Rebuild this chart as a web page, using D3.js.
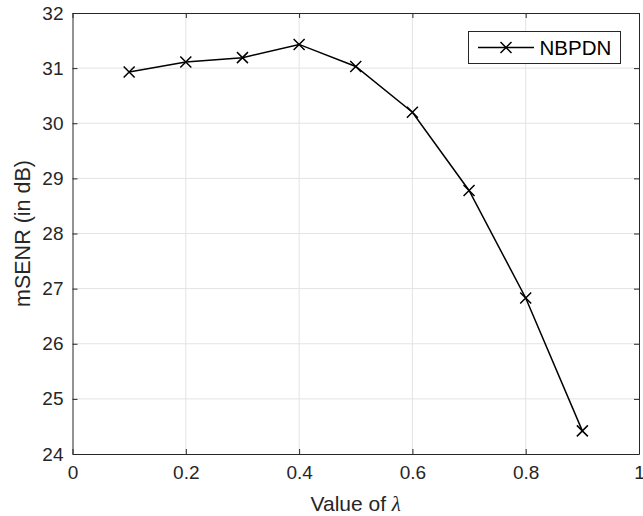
<!DOCTYPE html>
<html><head><meta charset="utf-8">
<script src="https://cdn.jsdelivr.net/npm/d3@7"></script>
<style>body{margin:0;background:#fff}svg{display:block}text{font-family:"Liberation Sans",Arial,sans-serif}</style>
</head><body>
<script>
const lambdas = [0.1,0.2,0.3,0.4,0.5,0.6,0.7,0.8,0.9];
const msenr = [30.93,31.11,31.19,31.43,31.03,30.20,28.78,26.83,24.42];
const xTicks = [0,0.2,0.4,0.6,0.8,1];
const xTickLabels = ["0","0.2","0.4","0.6","0.8","1"];
const yTicks = [24,25,26,27,28,29,30,31,32];
const seriesName = "NBPDN";

const W=643,H=516;
const m={l:72.5,r:4,t:13,b:62};
const svg=d3.select("body").append("svg").attr("width",W).attr("height",H);
const x=d3.scaleLinear().domain([0,1]).range([m.l,W-m.r]);
const y=d3.scaleLinear().domain([24,32]).range([H-m.b,m.t]);
const ax="#262626";

// grid
svg.append("g").selectAll("line").data(xTicks.slice(1,-1)).join("line")
 .attr("x1",d=>x(d)).attr("x2",d=>x(d)).attr("y1",y(24)).attr("y2",y(32))
 .attr("stroke","#e3e3e3").attr("stroke-width",1);
svg.append("g").selectAll("line").data(yTicks.slice(1,-1)).join("line")
 .attr("y1",d=>y(d)).attr("y2",d=>y(d)).attr("x1",x(0)).attr("x2",x(1))
 .attr("stroke","#e3e3e3").attr("stroke-width",1);

// axes
const fmt=(d)=>xTickLabels[xTicks.indexOf(d)];
const gx=svg.append("g").attr("transform",`translate(0,${y(24)})`)
 .call(d3.axisBottom(x).tickValues(xTicks).tickFormat(fmt).tickSizeInner(-5).tickSizeOuter(0).tickPadding(12));
const gxt=svg.append("g").attr("transform",`translate(0,${y(32)})`)
 .call(d3.axisTop(x).tickValues(xTicks).tickFormat("").tickSizeInner(-5).tickSizeOuter(0));
const gy=svg.append("g").attr("transform",`translate(${x(0)},0)`)
 .call(d3.axisLeft(y).tickValues(yTicks).tickFormat(d3.format("d")).tickSizeInner(-5).tickSizeOuter(0).tickPadding(9));
const gyr=svg.append("g").attr("transform",`translate(${x(1)},0)`)
 .call(d3.axisRight(y).tickValues(yTicks).tickFormat("").tickSizeInner(-5).tickSizeOuter(0));
[gx,gxt,gy,gyr].forEach(g=>{
 g.selectAll("path").attr("stroke",ax).attr("stroke-width",1);
 g.selectAll("line").attr("stroke",ax);
 g.selectAll("text").attr("fill",ax).style("font-size","19px").style("font-family","'Liberation Sans',Arial,sans-serif");
});

// labels
const xl1=svg.append("text").attr("y",511).attr("fill",ax).style("font-size","21px").attr("xml:space","preserve").text("Value of ");
const xl2=svg.append("text").attr("y",511).attr("fill",ax).style("font-size","21px").style("font-style","italic")
 .style("font-family","'Liberation Serif',serif").text("λ");
const w1=xl1.node().getComputedTextLength(), w2=xl2.node().getComputedTextLength();
const x0=(x(0)+x(1))/2-(w1+w2)/2;
xl1.attr("x",x0); xl2.attr("x",x0+w1);
svg.append("text").attr("transform",`translate(30,${(y(24)+y(32))/2}) rotate(-90)`).attr("text-anchor","middle")
 .attr("fill",ax).style("font-size","21.5px").text("mSENR (in dB)");

// line
const line=d3.line().x((d,i)=>x(lambdas[i])).y(d=>y(d));
svg.append("path").datum(msenr).attr("d",line).attr("fill","none").attr("stroke","#000").attr("stroke-width",1.5);
const cross=(g,cx,cy,s)=>g.append("path").attr("d",`M${cx-s},${cy-s}L${cx+s},${cy+s}M${cx-s},${cy+s}L${cx+s},${cy-s}`)
 .attr("stroke","#000").attr("stroke-width",1.5).attr("fill","none");
const mk=svg.append("g");
msenr.forEach((v,i)=>cross(mk,x(lambdas[i]),y(v),5.5));

// legend
const lg=svg.append("g");
lg.append("rect").attr("x",468.5).attr("y",31.5).attr("width",152).attr("height",32).attr("fill","#fff").attr("stroke",ax).attr("stroke-width",1);
lg.append("line").attr("x1",478).attr("x2",534).attr("y1",47.5).attr("y2",47.5).attr("stroke","#000").attr("stroke-width",1.5);
cross(lg,506,47.5,5.5);
lg.append("text").attr("x",539.5).attr("y",55).attr("fill","#000").style("font-size","20.5px").text(seriesName);
</script>
</body></html>
